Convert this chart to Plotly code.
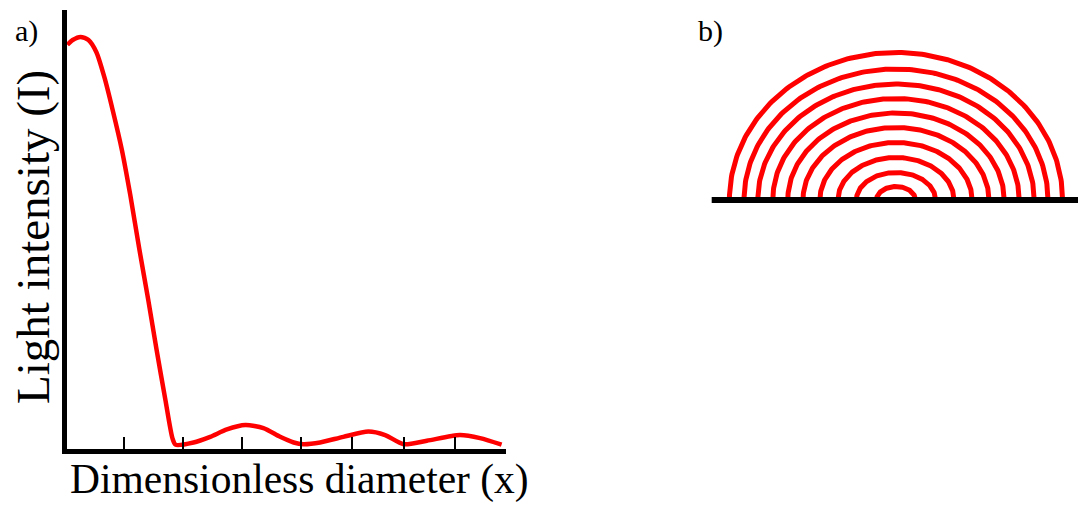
import numpy as np
import plotly.graph_objects as go

# ---- Panel a: light intensity vs dimensionless diameter ----
diameter = [0.02, 0.14, 0.32, 0.50, 0.68, 0.86, 1.05, 1.26, 1.45, 1.66, 1.86, 2.05, 2.25, 2.41, 2.48,
            2.89, 3.27, 3.65, 4.07, 4.48, 4.86, 5.17, 5.39, 5.77, 6.30, 6.87, 7.25, 7.67, 8.20, 8.95, 9.41, 9.90]
intensity = [92.0, 93.1, 93.8, 93.1, 90.3, 84.6, 77.0, 67.8, 57.5, 44.8, 33.3, 21.8, 10.3, 1.5, 0.0,
             0.5, 1.8, 3.5, 4.5, 3.8, 1.8, 0.5, 0.1, 0.5, 1.8, 3.0, 2.2, 0.1, 0.9, 2.2, 1.5, 0.0]
tick_positions = [1.30, 2.65, 3.99, 5.33, 6.50, 7.67, 8.84]

# ---- Panel b: concentric half rings (half-width, height) ----
ring_half_width = [166.6, 152.0, 138.2, 123.2, 108.2, 93.0, 76.1, 58.0, 39.6, 19.5]
ring_height = [147.5, 131.0, 116.0, 101.5, 87.0, 72.5, 57.5, 42.5, 27.5, 13.5]
baseline_x = [-184.3, 182.0]
baseline_y = [0, 0]

W, H = 1078, 506
RED = "#ff0000"
SERIF = "Liberation Serif, Times New Roman, serif"

fig = go.Figure()

fig.add_trace(go.Scatter(
    x=diameter, y=intensity, mode="lines",
    line=dict(color=RED, width=4.5, shape="spline", smoothing=0.7),
    cliponaxis=False, showlegend=False, hoverinfo="skip",
    xaxis="x", yaxis="y"))

theta = np.linspace(0, np.pi, 181)
for a, b in zip(ring_half_width, ring_height):
    fig.add_trace(go.Scatter(
        x=a * np.cos(theta), y=b * np.sin(theta), mode="lines",
        line=dict(color=RED, width=5),
        cliponaxis=False, showlegend=False, hoverinfo="skip",
        xaxis="x2", yaxis="y2"))

fig.add_trace(go.Scatter(
    x=baseline_x, y=baseline_y, mode="lines",
    line=dict(color="black", width=6),
    cliponaxis=False, showlegend=False, hoverinfo="skip",
    xaxis="x2", yaxis="y2"))

x0, x1 = 66.5, 506.0
ytop, ybot = 10.0, 449.0

fig.update_layout(
    width=W, height=H,
    margin=dict(l=0, r=0, t=0, b=0),
    paper_bgcolor="white", plot_bgcolor="rgba(0,0,0,0)",
    xaxis=dict(domain=[x0 / W, x1 / W], range=[0, 10], anchor="y",
               showgrid=False, zeroline=False, showline=True, linecolor="black", linewidth=5,
               ticks="inside", tickvals=tick_positions, ticklen=12, tickwidth=2, tickcolor="black",
               showticklabels=False, fixedrange=True),
    yaxis=dict(domain=[(H - ybot) / H, (H - ytop) / H], range=[-1, 100], anchor="x",
               showgrid=False, zeroline=False, showline=True, linecolor="black", linewidth=5,
               ticks="", showticklabels=False, fixedrange=True),
    xaxis2=dict(domain=[690 / W, 1.0], range=[-206, 182], anchor="y2", visible=False),
    yaxis2=dict(domain=[0, 1], range=[-306, 200], anchor="x2", visible=False),
    annotations=[
        dict(text="Light intensity (I)", x=33 / W, y=(H - 237) / H, xref="paper", yref="paper",
             showarrow=False, textangle=-90, xanchor="center", yanchor="middle",
             font=dict(family=SERIF, size=47, color="black")),
        dict(text="Dimensionless diameter (x)", x=299 / W, y=(H - 479) / H, xref="paper", yref="paper",
             showarrow=False, xanchor="center", yanchor="middle",
             font=dict(family=SERIF, size=41.5, color="black")),
        dict(text="a)", x=26.5 / W, y=(H - 31) / H, xref="paper", yref="paper",
             showarrow=False, xanchor="center", yanchor="middle",
             font=dict(family=SERIF, size=30, color="black")),
        dict(text="b)", x=710.5 / W, y=(H - 31) / H, xref="paper", yref="paper",
             showarrow=False, xanchor="center", yanchor="middle",
             font=dict(family=SERIF, size=30, color="black")),
    ],
)

fig.write_html("out.html")
